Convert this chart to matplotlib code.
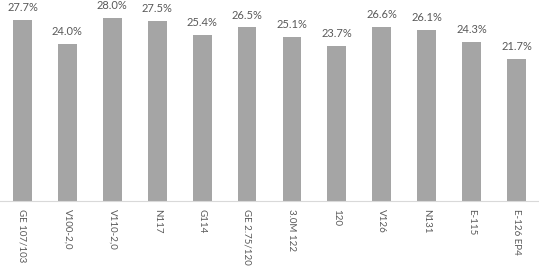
import matplotlib.pyplot as plt
import numpy as np

turbines = ["GE 107/103", "V100-2,0", "V110-2,0", "N117", "G114", "GE 2.75/120",
            "3.0M 122", "120", "V126", "N131", "E-115", "E-126 EP4"]
values = [27.7, 24.0, 28.0, 27.5, 25.4, 26.5, 25.1, 23.7, 26.6, 26.1, 24.3, 21.7]

plt.rcParams['font.family'] = ['Lato', 'DejaVu Sans']

fig = plt.figure(figsize=(5.39, 2.69), dpi=100)
ax = fig.add_axes([0, 0.253, 1, 0.747])

x = np.arange(len(turbines))
bars = ax.bar(x, values, width=0.42, color='#a5a5a5')

for xi, v in zip(x, values):
    ax.annotate(f"{v:.1f}%", (xi, v), xytext=(0, 5), textcoords='offset points',
                ha='center', va='bottom', fontsize=8, color='#595959', annotation_clip=False)

ax.set_xlim(-0.5, len(turbines) - 0.5)
ax.set_ylim(0, 30.7)
ax.set_xticks(x)
ax.set_xticklabels(turbines, rotation=270, fontsize=7, color='#595959')
ax.tick_params(axis='x', length=0, pad=6)
ax.set_yticks([])
for s in ['top', 'left', 'right']:
    ax.spines[s].set_visible(False)
ax.spines['bottom'].set_color('#d9d9d9')

fig.savefig('out.png', dpi=100)
